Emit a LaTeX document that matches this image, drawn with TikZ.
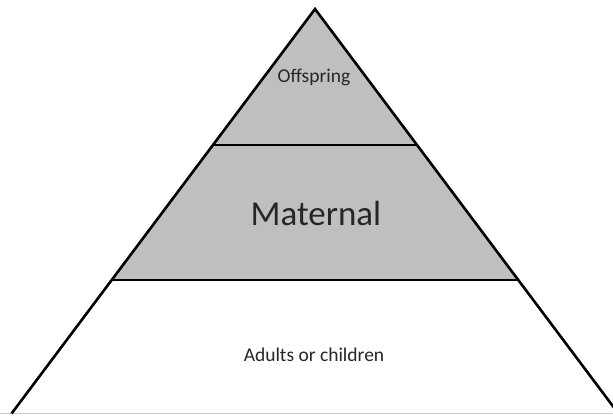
\documentclass[tikz,border=0pt]{standalone}
\usepackage{fontspec}
\setmainfont{Carlito}
\definecolor{tiergray}{HTML}{BFBFBF}
\definecolor{txt}{HTML}{262626}
\begin{document}
\begin{tikzpicture}[x=1pt,y=-1pt,
  edge/.style={line width=2.6pt,black,line join=miter},
  lbl/.style={text=txt,inner sep=0pt,anchor=center}]
\useasboundingbox (0,0) rectangle (613,415);
\clip (0,0) rectangle (613,415);
\fill[white] (0,0) rectangle (613,415);
\coordinate (A) at (315,9);
\coordinate (L1) at (213,145);
\coordinate (R1) at (417,145);
\coordinate (L2) at (111.75,280);
\coordinate (R2) at (518.25,280);
\coordinate (BL) at (11.6,413.5);
\coordinate (BR) at (618.4,413.5);
\coordinate (EL) at (0,413.5);
\coordinate (ER) at (613,413.5);
\fill[tiergray] (A) -- (L2) -- (R2) -- cycle;
\draw[gray!40,line width=1.2pt] (EL) -- (ER);
\draw[edge] (BL) -- (A) -- (BR);
\draw[edge] (L1) -- (R1);
\draw[edge] (L2) -- (R2);
\node[lbl,font=\fontsize{19.5}{22}\selectfont] (off) at (314,77) {Offspring};
\node[lbl,font=\fontsize{35}{40}\selectfont] (mat) at (316,213) {Maternal};
\node[lbl,font=\fontsize{19.5}{22}\selectfont] (adu) at (314,355) {Adults or children};
\end{tikzpicture}
\end{document}
